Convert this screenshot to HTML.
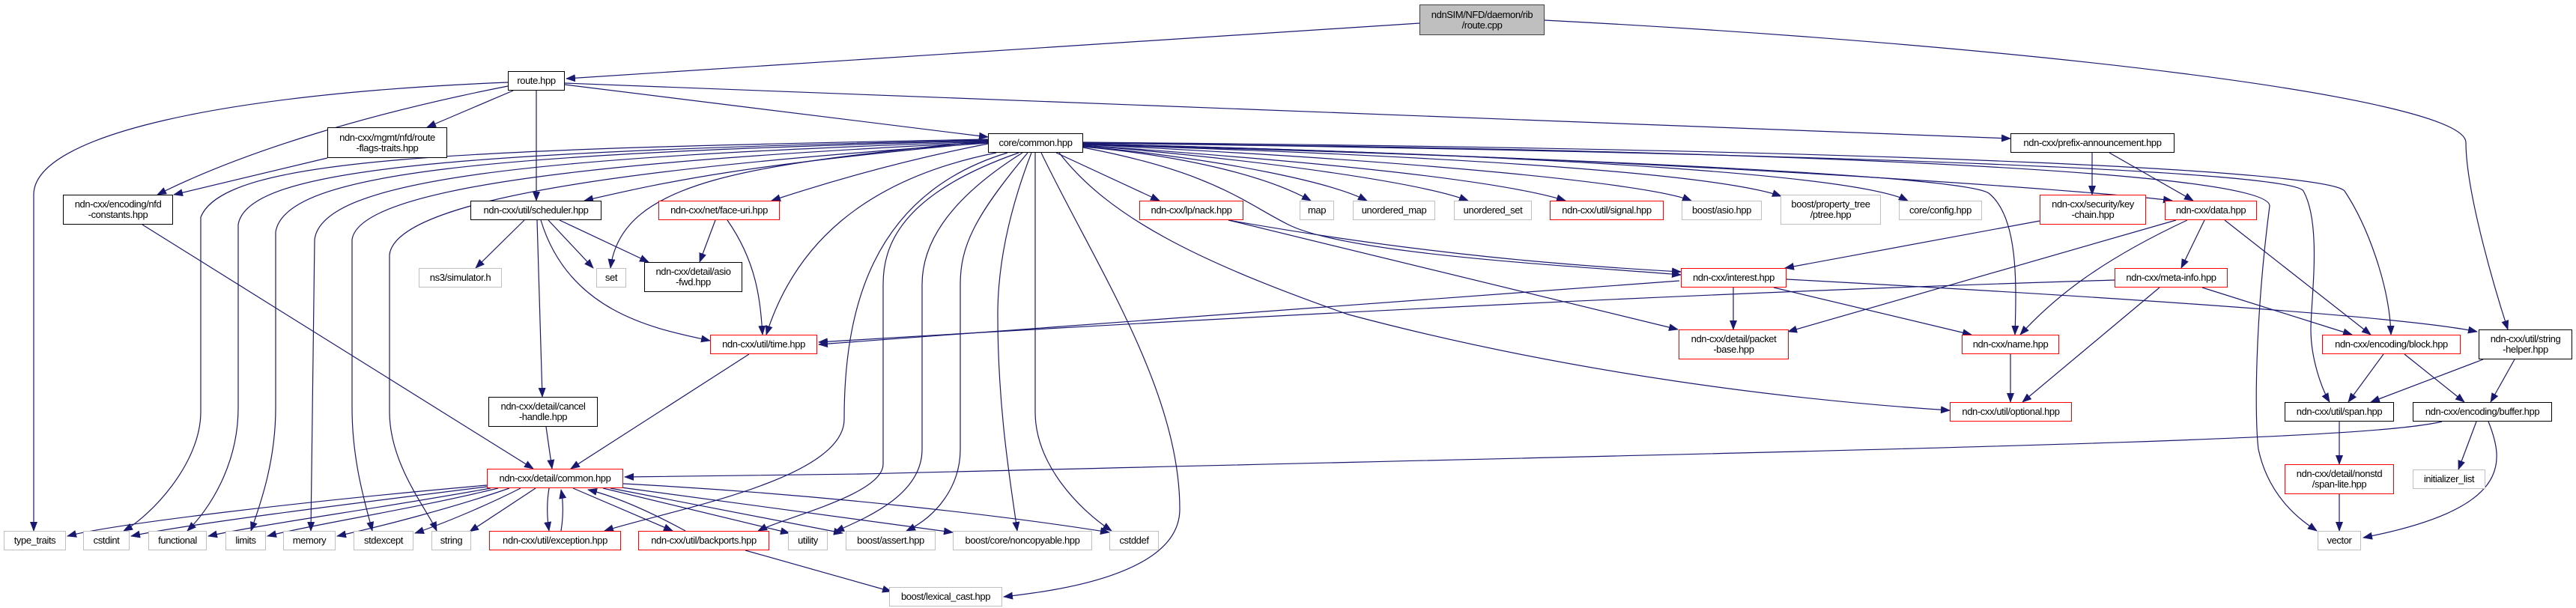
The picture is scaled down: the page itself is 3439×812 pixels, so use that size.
<!DOCTYPE html>
<html><head><meta charset="utf-8"><style>
body{margin:0;width:3439px;height:812px;background:#fff;position:relative;overflow:hidden;font-family:"Liberation Sans",sans-serif}
.n{position:absolute;box-sizing:border-box;border:1.5px solid #000;background:#fff;font-size:13px;letter-spacing:-0.4px;display:flex;align-items:center;justify-content:center;text-align:center;line-height:14px;color:#000;white-space:nowrap}
.r{border-color:#f00}.g{border-color:#bfbfbf}.root{background:#bfbfbf;border-color:#404040}
svg{position:absolute;left:0;top:0}
</style></head><body>
<svg width="3439" height="812" viewBox="0 0 3439 812">
<defs><marker id="a" markerWidth="13" markerHeight="10" refX="12" refY="5" orient="auto" markerUnits="userSpaceOnUse"><path d="M0,0 L13,5 L0,10z" fill="#191970"/></marker></defs>
<g fill="none" stroke="#191970" stroke-width="1.2" marker-end="url(#a)">
<path d="M1895,31 L756,105"/>
<path d="M2062,27 C2700,60 3290,130 3292,190 C3292,260 3335,400 3348,440"/>
<path d="M678,110 C300,125 45,180 45,260 L45,709"/>
<path d="M678,115 C500,150 330,200 210,260"/>
<path d="M685,121 L570,170"/>
<path d="M716,121 L716,268"/>
<path d="M754,113 L1319,183"/>
<path d="M754,111 L2684,185"/>
<path d="M437,211 L232,260"/>
<path d="M190,300 L712,626"/>
<path d="M700,294 L635,358"/>
<path d="M732,294 L792,358"/>
<path d="M747,294 L866,350"/>
<path d="M722,294 C760,420 880,440 948,455"/>
<path d="M717,294 L724,530"/>
<path d="M729,570 L737,626"/>
<path d="M1000,473 L762,626"/>
<path d="M955,294 L934,350"/>
<path d="M971,294 C1010,350 1015,400 1018,447"/>
<path d="M1319,186 C600,200 300,210 268,290 L268,550 C268,620 200,690 165,709"/>
<path d="M1319,187 C600,203 330,225 318,300 L318,545 C318,620 280,680 250,709"/>
<path d="M1319,188 C650,205 380,230 368,310 L368,545 C368,620 345,680 335,709"/>
<path d="M1319,189 C700,210 430,240 420,320 L415,709"/>
<path d="M1319,190 C800,215 480,250 470,320 L470,545 C470,620 490,680 497,709"/>
<path d="M1319,191 C900,220 530,260 520,340 L520,550 C520,620 570,680 583,709"/>
<path d="M1319,188 C1000,220 830,240 815,358"/>
<path d="M1319,190 C1000,220 900,240 780,268"/>
<path d="M1319,192 C1200,215 1100,245 1030,268"/>
<path d="M1330,204 C1150,240 1060,330 1023,447"/>
<path d="M1345,204 C1160,260 1127,420 1127,560 C1127,640 900,680 807,709"/>
<path d="M1360,204 C1200,260 1179,330 1179,380 L1179,620 C1179,660 1050,690 1012,709"/>
<path d="M1365,204 C1260,270 1231,330 1231,380 L1231,600 C1231,660 1160,690 1115,710"/>
<path d="M1372,204 C1300,290 1282,330 1282,380 L1282,600 C1282,650 1250,690 1210,709"/>
<path d="M1377,204 C1340,300 1332,370 1332,420 C1332,550 1350,650 1358,709"/>
<path d="M1382,204 L1382,550 C1382,620 1440,680 1484,709"/>
<path d="M1390,204 C1460,350 1575,520 1575,680 C1575,770 1400,790 1340,797"/>
<path d="M1414,204 C1480,290 1600,350 1800,420 C2100,500 2400,535 2603,548"/>
<path d="M1410,204 L1548,268"/>
<path d="M1446,196 C1600,210 1700,240 1750,268"/>
<path d="M1446,195 C1650,215 1780,245 1825,268"/>
<path d="M1446,194 C1700,215 1900,245 1960,268"/>
<path d="M1446,194 C1750,215 2000,240 2090,268"/>
<path d="M1446,193 C1900,215 2200,245 2258,268"/>
<path d="M1446,193 C2000,210 2300,235 2378,262"/>
<path d="M1446,192 C2100,208 2480,235 2547,268"/>
<path d="M1446,197 C1620,230 1660,270 1720,300 C1800,340 2100,355 2244,367"/>
<path d="M1446,193 C2100,210 2620,235 2655,258 C2695,290 2692,380 2690,447"/>
<path d="M1446,192 C2200,210 2800,255 2900,268"/>
<path d="M1446,191 C2400,200 3030,230 3030,275 C3010,430 3010,560 3015,600 C3030,670 3080,700 3093,709"/>
<path d="M1446,191 C2500,205 3060,230 3075,255 C3100,300 3085,400 3085,440 C3085,480 3100,520 3110,537"/>
<path d="M1446,190 C2600,200 3110,230 3130,255 C3160,300 3190,380 3192,447"/>
<path d="M1640,294 L2240,440"/>
<path d="M1640,294 C1900,340 2100,355 2244,363"/>
<path d="M2723,295 L2383,358"/>
<path d="M2905,294 L2387,443"/>
<path d="M2920,294 C2800,350 2740,400 2697,447"/>
<path d="M2943,294 L2912,358"/>
<path d="M2970,294 L3165,447"/>
<path d="M2793,204 L2793,260"/>
<path d="M2816,204 L2928,268"/>
<path d="M2242,375 L1093,460"/>
<path d="M2823,374 C2300,390 1700,420 1093,457"/>
<path d="M2314,384 L2314,440"/>
<path d="M2368,384 L2632,447"/>
<path d="M2385,373 C2700,390 3200,420 3307,443"/>
<path d="M2940,384 L3140,447"/>
<path d="M2883,384 L2700,537"/>
<path d="M2684,473 L2684,537"/>
<path d="M3182,473 L3135,537"/>
<path d="M3210,473 L3290,537"/>
<path d="M3315,480 L3165,537"/>
<path d="M3357,480 L3325,537"/>
<path d="M3123,563 L3123,620"/>
<path d="M3123,660 L3123,709"/>
<path d="M3306,563 L3282,627"/>
<path d="M3322,563 C3345,620 3350,680 3155,718"/>
<path d="M3260,563 C3150,590 2500,600 1150,633 L834,637"/>
<path d="M650,648 C400,670 150,700 90,716"/>
<path d="M650,650 C450,675 250,700 175,716"/>
<path d="M655,652 C500,680 350,700 278,716"/>
<path d="M665,652 C550,680 420,700 357,716"/>
<path d="M680,652 C600,680 500,705 450,716"/>
<path d="M695,652 C650,675 590,700 554,712"/>
<path d="M715,652 L627,710"/>
<path d="M733,652 C730,670 730,690 733,709"/>
<path d="M749,709 C752,690 752,670 749,654"/>
<path d="M765,652 L898,709"/>
<path d="M915,709 C880,690 830,665 785,654"/>
<path d="M805,652 L1054,712"/>
<path d="M815,652 L1125,712"/>
<path d="M822,650 L1272,711"/>
<path d="M832,646 C1100,660 1350,690 1481,711"/>
<path d="M995,735 L1190,790"/>
</g>
</svg>
<div class="n root" style="left:1895px;top:6px;width:167px;height:41px">ndnSIM/NFD/daemon/rib<br>/route.cpp</div>
<div class="n" style="left:678px;top:95px;width:76px;height:26px">route.hpp</div>
<div class="n" style="left:437px;top:170px;width:160px;height:41px">ndn-cxx/mgmt/nfd/route<br>-flags-traits.hpp</div>
<div class="n" style="left:84px;top:260px;width:147px;height:40px">ndn-cxx/encoding/nfd<br>-constants.hpp</div>
<div class="n" style="left:1319px;top:178px;width:127px;height:26px">core/common.hpp</div>
<div class="n" style="left:2684px;top:178px;width:219px;height:26px">ndn-cxx/prefix-announcement.hpp</div>
<div class="n" style="left:628px;top:268px;width:175px;height:26px">ndn-cxx/util/scheduler.hpp</div>
<div class="n r" style="left:879px;top:268px;width:162px;height:26px">ndn-cxx/net/face-uri.hpp</div>
<div class="n g" style="left:559px;top:358px;width:111px;height:26px">ns3/simulator.h</div>
<div class="n g" style="left:796px;top:358px;width:40px;height:26px">set</div>
<div class="n" style="left:860px;top:350px;width:131px;height:40px">ndn-cxx/detail/asio<br>-fwd.hpp</div>
<div class="n r" style="left:948px;top:447px;width:143px;height:26px">ndn-cxx/util/time.hpp</div>
<div class="n" style="left:652px;top:530px;width:146px;height:40px">ndn-cxx/detail/cancel<br>-handle.hpp</div>
<div class="n r" style="left:650px;top:626px;width:182px;height:26px">ndn-cxx/detail/common.hpp</div>
<div class="n g" style="left:5px;top:709px;width:83px;height:26px">type_traits</div>
<div class="n g" style="left:111px;top:709px;width:62px;height:26px">cstdint</div>
<div class="n g" style="left:198px;top:709px;width:78px;height:26px">functional</div>
<div class="n g" style="left:301px;top:709px;width:54px;height:26px">limits</div>
<div class="n g" style="left:378px;top:709px;width:70px;height:26px">memory</div>
<div class="n g" style="left:472px;top:709px;width:80px;height:26px">stdexcept</div>
<div class="n g" style="left:576px;top:709px;width:53px;height:26px">string</div>
<div class="n r" style="left:653px;top:709px;width:176px;height:26px">ndn-cxx/util/exception.hpp</div>
<div class="n r" style="left:852px;top:709px;width:175px;height:26px">ndn-cxx/util/backports.hpp</div>
<div class="n g" style="left:1052px;top:709px;width:53px;height:26px">utility</div>
<div class="n g" style="left:1129px;top:709px;width:120px;height:26px">boost/assert.hpp</div>
<div class="n g" style="left:1272px;top:709px;width:186px;height:26px">boost/core/noncopyable.hpp</div>
<div class="n g" style="left:1481px;top:709px;width:66px;height:26px">cstddef</div>
<div class="n g" style="left:1187px;top:784px;width:151px;height:26px">boost/lexical_cast.hpp</div>
<div class="n r" style="left:1521px;top:268px;width:139px;height:26px">ndn-cxx/lp/nack.hpp</div>
<div class="n g" style="left:1735px;top:268px;width:46px;height:26px">map</div>
<div class="n g" style="left:1806px;top:268px;width:110px;height:26px">unordered_map</div>
<div class="n g" style="left:1941px;top:268px;width:104px;height:26px">unordered_set</div>
<div class="n r" style="left:2069px;top:268px;width:152px;height:26px">ndn-cxx/util/signal.hpp</div>
<div class="n g" style="left:2245px;top:268px;width:107px;height:26px">boost/asio.hpp</div>
<div class="n g" style="left:2377px;top:260px;width:134px;height:40px">boost/property_tree<br>/ptree.hpp</div>
<div class="n g" style="left:2535px;top:268px;width:111px;height:26px">core/config.hpp</div>
<div class="n r" style="left:2723px;top:260px;width:142px;height:40px">ndn-cxx/security/key<br>-chain.hpp</div>
<div class="n r" style="left:2890px;top:268px;width:123px;height:26px">ndn-cxx/data.hpp</div>
<div class="n r" style="left:2244px;top:358px;width:141px;height:26px">ndn-cxx/interest.hpp</div>
<div class="n r" style="left:2823px;top:358px;width:151px;height:26px">ndn-cxx/meta-info.hpp</div>
<div class="n r" style="left:2241px;top:440px;width:147px;height:40px">ndn-cxx/detail/packet<br>-base.hpp</div>
<div class="n r" style="left:2619px;top:447px;width:130px;height:26px">ndn-cxx/name.hpp</div>
<div class="n r" style="left:2603px;top:537px;width:163px;height:26px">ndn-cxx/util/optional.hpp</div>
<div class="n r" style="left:3100px;top:447px;width:185px;height:26px">ndn-cxx/encoding/block.hpp</div>
<div class="n" style="left:3309px;top:440px;width:125px;height:40px">ndn-cxx/util/string<br>-helper.hpp</div>
<div class="n" style="left:3050px;top:537px;width:146px;height:26px">ndn-cxx/util/span.hpp</div>
<div class="n" style="left:3221px;top:537px;width:186px;height:26px">ndn-cxx/encoding/buffer.hpp</div>
<div class="n r" style="left:3050px;top:620px;width:146px;height:40px">ndn-cxx/detail/nonstd<br>/span-lite.hpp</div>
<div class="n g" style="left:3221px;top:627px;width:97px;height:26px">initializer_list</div>
<div class="n g" style="left:3094px;top:709px;width:58px;height:26px">vector</div>
</body></html>
